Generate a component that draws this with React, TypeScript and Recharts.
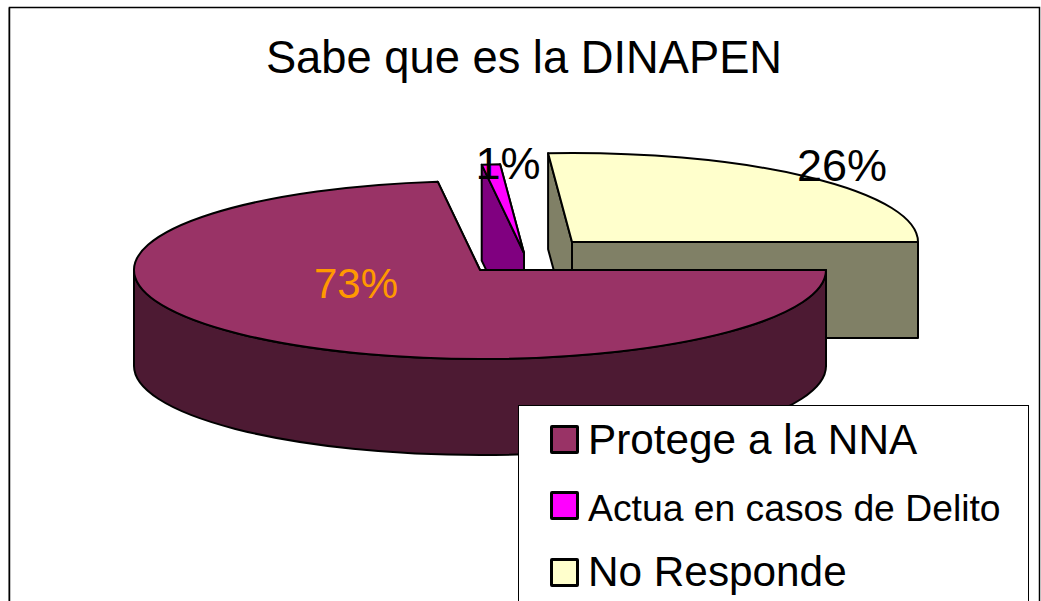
import { PieChart, Pie, Legend } from 'recharts';

// in drawing order (back slices first)
const categories = ['No Responde', 'Actua en casos de Delito', 'Protege a la NNA'];
const percentages = [26.1, 0.85, 73.05];

// legend keeps the original series order
const legendOrder = ['Protege a la NNA', 'Actua en casos de Delito', 'No Responde'];

const tableData = categories.map((name, i) => ({ name, value: percentages[i] }));

const W = 1041;
const H = 601;
const CX = 480;
const CY = 270;
const RX = 346;
const RY = 89;
const DEPTH = 96;
const FONT = '"Liberation Sans", Arial, sans-serif';

const topColors: Record<string, string> = {
  'Protege a la NNA': '#993366',
  'Actua en casos de Delito': '#ff00ff',
  'No Responde': '#ffffcc',
};
const sideColors: Record<string, string> = {
  'Protege a la NNA': '#4d1a33',
  'Actua en casos de Delito': '#800080',
  'No Responde': '#808066',
};
// how far each slice is pulled out of the pie
const explode: Record<string, [number, number]> = {
  'Protege a la NNA': [0, 0],
  'Actua en casos de Delito': [44, -17],
  'No Responde': [92, -28],
};
const labelPos: Record<string, [number, number]> = {
  'Protege a la NNA': [-124, 13],
  'Actua en casos de Delito': [28, -107],
  'No Responde': [362, -105],
};
const labelSizes: Record<string, number> = {
  'Protege a la NNA': 42,
  'Actua en casos de Delito': 45,
  'No Responde': 45,
};
const labelColors: Record<string, string> = {
  'Protege a la NNA': '#ff9900',
  'Actua en casos de Delito': '#000000',
  'No Responde': '#000000',
};

const rad = (a: number) => (a * Math.PI) / 180;

function Slice3D(props: any) {
  const { cx, cy, outerRadius, startAngle, endAngle, name } = props;
  const [ox, oy] = explode[name];
  const rx = outerRadius;
  const ry = outerRadius * (RY / RX);
  const x0 = cx + ox;
  const y0 = cy + oy;
  const pt = (a: number): [number, number] => [x0 + rx * Math.cos(rad(a)), y0 - ry * Math.sin(rad(a))];
  const lo = Math.min(startAngle, endAngle);
  const hi = Math.max(startAngle, endAngle);
  const [sx, sy] = pt(lo);
  const [ex, ey] = pt(hi);
  const large = hi - lo > 180 ? 1 : 0;

  const wall = (x: number, y: number) =>
    `M${x0},${y0} L${x},${y} L${x},${y + DEPTH} L${x0},${y0 + DEPTH} Z`;

  // outer curved wall only shows on the front half
  const a = Math.max(lo, 180);
  const b = Math.min(hi, 360);
  let outer = '';
  if (b > a) {
    const [ax, ay] = pt(a);
    const [bx, by] = pt(b);
    outer = `M${ax},${ay} A${rx},${ry} 0 0 0 ${bx},${by} L${bx},${by + DEPTH} A${rx},${ry} 0 0 1 ${ax},${ay + DEPTH} Z`;
  }

  const side = { fill: sideColors[name], stroke: '#000', strokeWidth: 2, strokeLinejoin: 'round' as const };
  return (
    <g>
      <path d={wall(sx, sy)} {...side} />
      <path d={wall(ex, ey)} {...side} />
      {outer && <path d={outer} {...side} />}
      <path
        d={`M${x0},${y0} L${sx},${sy} A${rx},${ry} 0 ${large} 0 ${ex},${ey} Z`}
        fill={topColors[name]}
        stroke="#000"
        strokeWidth={2}
        strokeLinejoin="round"
      />
    </g>
  );
}

function renderLabel(props: any) {
  const { cx, cy, name, percent } = props;
  const [dx, dy] = labelPos[name];
  return (
    <text
      x={cx + dx}
      y={cy + dy}
      textAnchor="middle"
      dominantBaseline="central"
      fontFamily={FONT}
      fontSize={labelSizes[name]}
      fill={labelColors[name]}
    >
      {`${Math.round(percent * 100)}%`}
    </text>
  );
}

function LegendBox() {
  const sizes = [42.3, 37.3, 42.3];
  const swatchTops = [425, 491, 558];
  const textCentres = [440, 508, 572];
  return (
    <div
      style={{
        position: 'relative',
        width: 511,
        height: 230,
        background: '#fff',
        borderTop: '1px solid #000',
        borderLeft: '1px solid #000',
        borderRight: '1px solid #000',
        boxSizing: 'border-box',
      }}
    >
      {legendOrder.map((name, i) => (
        <div key={name}>
          <div
            style={{
              position: 'absolute',
              left: 31,
              top: swatchTops[i] - 406,
              width: 29,
              height: 29,
              boxSizing: 'border-box',
              background: topColors[name],
              border: '3px solid #000',
              borderRadius: 2,
            }}
          />
          <div
            style={{
              position: 'absolute',
              left: 69,
              top: textCentres[i] - 406 - 25,
              lineHeight: '50px',
              fontSize: sizes[i],
              fontFamily: FONT,
              color: '#000',
              whiteSpace: 'nowrap',
            }}
          >
            {name}
          </div>
        </div>
      ))}
    </div>
  );
}

export default function App() {
  return (
    <div style={{ position: 'absolute', left: 0, top: 0, width: W, height: H, overflow: 'hidden', background: '#fff' }}>
      <PieChart width={W} height={H} margin={{ top: 0, right: 0, bottom: 0, left: 0 }}>
        <rect x={8} y={7.5} width={1} height={H} fill="#999" />
        <rect x={9.5} y={7.5} width={1030} height={H} fill="#fff" stroke="#000" strokeWidth={1.5} />
        <text x={524} y={57} textAnchor="middle" dominantBaseline="central" fontFamily={FONT} fontSize={45.3} fill="#000">
          Sabe que es la DINAPEN
        </text>
        <Pie
          data={tableData}
          dataKey="value"
          nameKey="name"
          cx={CX}
          cy={CY}
          outerRadius={RX}
          startAngle={0}
          endAngle={360}
          stroke="none"
          shape={Slice3D}
          label={renderLabel}
          labelLine={false}
          isAnimationActive={false}
        />
        <Legend content={<LegendBox />} wrapperStyle={{ left: 518, top: 405, width: 511, height: 230 }} />
      </PieChart>
    </div>
  );
}
